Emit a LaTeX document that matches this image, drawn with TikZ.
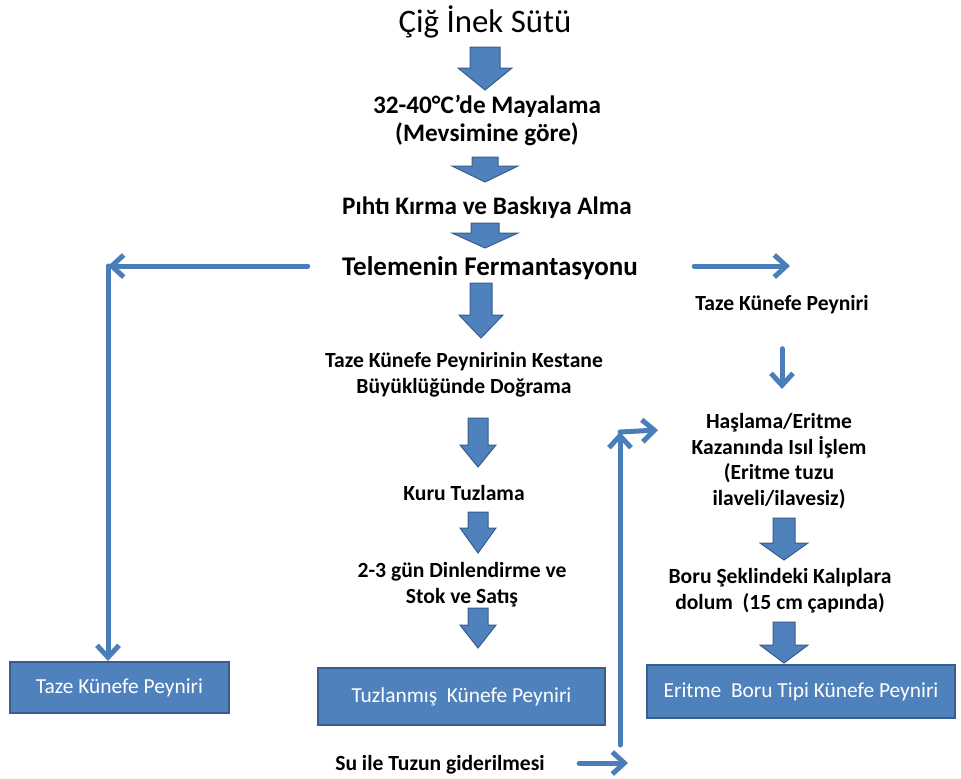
\documentclass[tikz,border=0pt]{standalone}
\usepackage{fontspec}
\setmainfont{Carlito}
\usepackage{tikz}
\usetikzlibrary{arrows.meta,positioning}
\definecolor{knblue}{RGB}{79,129,189}
\definecolor{kndark}{RGB}{56,93,138}
\definecolor{knline}{RGB}{74,126,187}
\tikzset{
  knstep/.style={font=\bfseries\fontsize{10.8}{12.8}\selectfont, align=center, inner sep=2pt},
  knbig/.style={font=\bfseries\fontsize{12.6}{14}\selectfont, align=center, inner sep=2pt},
  knbox/.style={draw=kndark, line width=1pt, fill=knblue, text=white, font=\fontsize{10.7}{12}\selectfont, align=center},
  knblock/.style={fill=knblue, draw=kndark, line width=.5pt},
  knarr/.style={-{Straight Barb[length=6pt,width=11pt]}, line width=2.5pt, draw=knline, line cap=round}
}
\begin{document}
\begin{tikzpicture}[x=.5pt, y=-.5pt]
  \useasboundingbox (0,0) rectangle (961,778);
  % main line
  \node[font=\fontsize{16.4}{19}\selectfont] (cig) at (485,22) {Çiğ İnek Sütü};
  \node[knbig] (maya) at (487,120) {32-40°C’de Mayalama\\(Mevsimine göre)};
  \node[knbig] (piht) at (487,208) {Pıhtı Kırma ve Baskıya Alma};
  \node[knbig, font=\bfseries\fontsize{13.5}{15}\selectfont] (ferm) at (490,268) {Telemenin Fermantasyonu};
  % middle column
  \node[knstep] (kest) at (464,375) {Taze Künefe Peynirinin Kestane\\Büyüklüğünde Doğrama};
  \node[knstep] (kuru) at (464,493) {Kuru Tuzlama};
  \node[knstep] (dinl) at (462,585) {2-3 gün Dinlendirme ve\\Stok ve Satış};
  \node[knbox, minimum width=143.5pt, minimum height=28.5pt] (tuz) at (461.5,696.5) {Tuzlanmış~ Künefe Peyniri};
  \node[knstep] (su) at (440,765) {Su ile Tuzun giderilmesi};
  % right column
  \node[knstep] (taze) at (782,305) {Taze Künefe Peyniri};
  \node[knstep] (hasl) at (779,461) {Haşlama/Eritme\\Kazanında Isıl İşlem\\(Eritme tuzu\\ilaveli/ilavesiz)};
  \node[knstep] (boru) at (780,591) {Boru Şeklindeki Kalıplara\\dolum~ (15 cm çapında)};
  \node[knbox, minimum width=154pt, minimum height=26.5pt] (erit) at (801,691.5) {Eritme~ Boru Tipi Künefe Peyniri};
  % left column
  \node[knbox, minimum width=109.5pt, minimum height=25.5pt] (tazel) at (119.5,687.5) {Taze Künefe Peyniri};
  % free ends
  \coordinate (lcorner) at (108,266);
  \coordinate (rtip) at (790,266);
  \coordinate (ucorner) at (620,432);
  \coordinate (utip) at (658,430);
  \coordinate (ufoot) at (620,745);
  \coordinate (sutip) at (628,763);
  % block arrows
  \foreach \bx/\ya/\yb/\yc/\sw/\hw in {485/47/68/90/15/27, 485/157/166/182/13/33, 485/223/233/248/14/33,
      481/283/315/338/11/22, 478/418/445/467/10/18, 478/512/528/553/10/18, 478/608/625/648/10/18,
      784/518/543/560/11/24, 784/622/645/663/11/24}
    \draw[knblock] (\bx-\sw,\ya) -- (\bx+\sw,\ya) -- (\bx+\sw,\yb) -- (\bx+\hw,\yb) -- (\bx,\yc)
      -- (\bx-\hw,\yb) -- (\bx-\sw,\yb) -- cycle;
  % line arrows
  \draw[knarr, shorten <=15pt] (lcorner -| ferm.west) -- (lcorner);
  \draw[knarr] (lcorner) -- (lcorner |- tazel.north);
  \draw[knarr, shorten <=26pt] (rtip -| ferm.east) -- (rtip);
  \draw[knarr, shorten <=15pt, shorten >=10pt] (taze.south) -- (taze.south |- hasl.north);
  \draw[knarr] (ufoot) -- (ucorner);
  \draw[knarr] (ucorner) -- (utip);
  \draw[knarr, shorten <=15pt] (su.east |- sutip) -- (sutip);
\end{tikzpicture}
\end{document}
